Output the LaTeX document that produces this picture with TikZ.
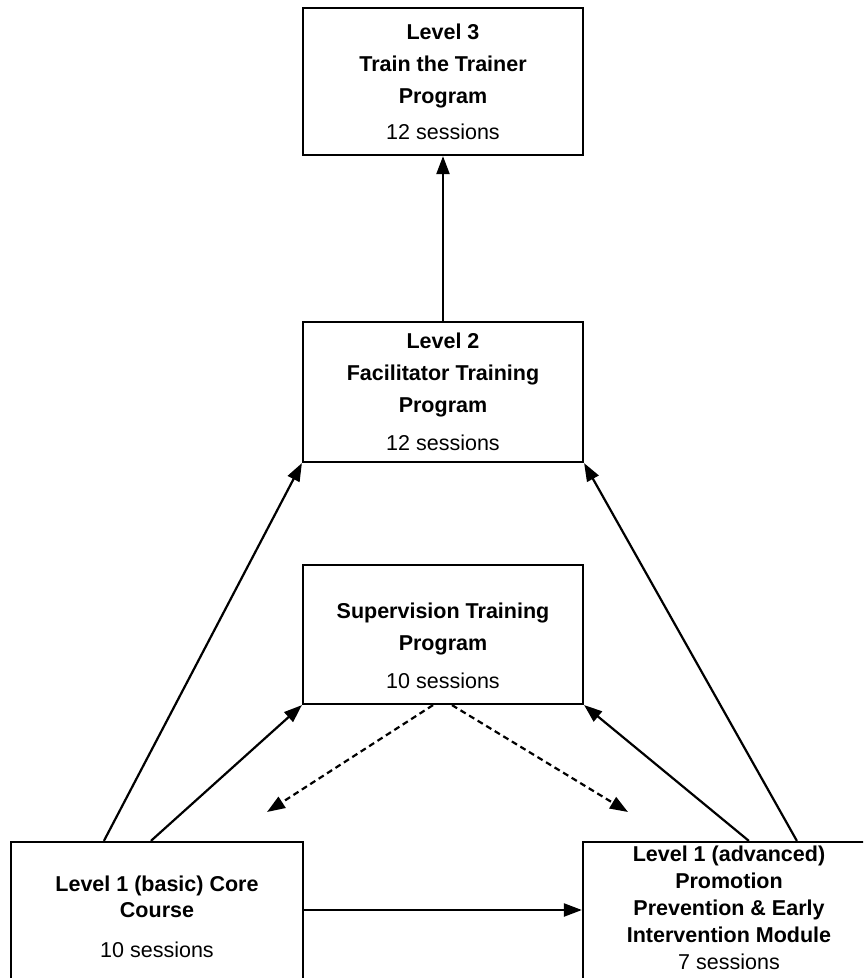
\documentclass[tikz,border=0pt]{standalone}
\usepackage{fontspec}
\setmainfont{Liberation Sans}
\usetikzlibrary{arrows.meta}

\begin{document}
\begin{tikzpicture}[x=1pt, y=-1pt,
    box/.style={draw=black, line width=2.2pt, minimum width=280pt, align=center,
      inner sep=0pt, font=\fontsize{21.5}{32}\selectfont\bfseries},
    arr/.style={line width=2.2pt, -{Triangle[length=18pt,width=13pt]}},
    dasharr/.style={arr, dash pattern=on 6pt off 4pt}
    ]
  \clip (0,0) rectangle (863,978);
  \node[box, minimum height=147pt] (l3) at (443,81.5)
    {Level 3\\Train the Trainer\\Program\\[4pt]\mdseries 12 sessions};
  \node[box, minimum height=140pt] (l2) at (443,392)
    {Level 2\\Facilitator Training\\Program\\[6pt]\mdseries 12 sessions};
  \node[box, minimum height=139pt] (sup) at (443,634.5)
    {\rule{0pt}{39pt}Supervision Training\\Program\\[6pt]\mdseries 10 sessions};
  \node[box, minimum width=292pt, minimum height=150pt,
    font=\fontsize{21.5}{26}\selectfont\bfseries] (basic) at (157,917)
    {Level 1 (basic) Core\\Course\\[14pt]\mdseries 10 sessions};
  \node[box, minimum width=292pt, minimum height=150pt,
    font=\fontsize{21.5}{27}\selectfont\bfseries] (adv) at (729,917)
    {Level 1 (advanced)\\Promotion\\Prevention \& Early\\Intervention Module\\
     \mdseries 7 sessions\rule[-19pt]{0pt}{19pt}};

  \coordinate (dl) at (267,812);
  \coordinate (dr) at (628,812);

  \draw[arr] (l2.north) -- (l3.south);
  \draw[arr] ([xshift=94pt]basic.north west) -- (l2.south west);
  \draw[arr] ([xshift=141pt]basic.north west) -- (sup.south west);
  \draw[arr] ([xshift=167pt]adv.north west) -- (sup.south east);
  \draw[arr] ([xshift=215pt]adv.north west) -- (l2.south east);
  \draw[arr] ([yshift=7pt]basic.east) -- ([yshift=7pt]adv.west);
  \draw[dasharr] ([xshift=-10pt]sup.south) -- (dl);
  \draw[dasharr] ([xshift=9pt]sup.south) -- (dr);
\end{tikzpicture}
\end{document}
